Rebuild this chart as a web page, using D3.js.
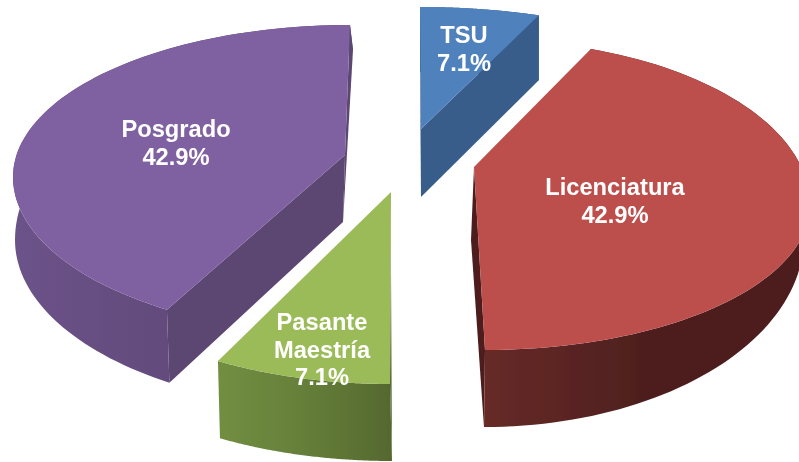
<!DOCTYPE html>
<html><head><meta charset="utf-8">
<script src="https://cdn.jsdelivr.net/npm/d3@7"></script>
<style>html,body{margin:0;padding:0;background:#fff;overflow:hidden}svg{display:block}</style>
</head><body>
<svg id="chart" width="799" height="462"></svg>
<script>
// Data
const categories = ["TSU", "Licenciatura", "Pasante Maestría", "Posgrado"];
const values = [7.1, 42.9, 7.1, 42.9];
const labelLines = [["TSU"], ["Licenciatura"], ["Pasante", "Maestría"], ["Posgrado"]];

// Styling
const topColors = ["#4f81bd", "#bc4f4c", "#9bbb59", "#7f60a0"];
const wallColors = ["#385d8a", "#4e1f1e", "#566a32", "#5c4673"];
const outerStops = [
  [["0", "#385d8a"], ["1", "#385d8a"]],
  [["0", "#672a28"], ["0.5", "#4e1f1e"], ["1", "#4e1f1e"]],
  [["0", "#718e41"], ["0.5", "#657f3a"], ["1", "#55692f"]],
  [["0", "#6b5288"], ["0.55", "#614a7a"], ["0.7", "#5c4673"], ["1", "#5c4673"]]
];

// Perspective layout of each exploded slice (picture geometry, not data)
const deg = Math.PI / 180;
const views = [
  { top: {cx:420, cy:131, rx:330, ryT:124, ryB:124}, base: {cx:420, cy:196, rx:330, ryT:124, ryB:124},
    t: [0, 21.1], pivot: [421,129], pivotBase: [421,197], grad: [420,540],
    walls: [[0],[1]] , label: [464,43] },
  { top: {cx:485, cy:205, rx:325, ryT:165, ryB:145}, base: {cx:484, cy:237, rx:320, ryT:190, ryB:190},
    t: [19, 180], pivot: [474,167], pivotBase: [471,240], grad: [485,799],
    walls: [[1]], label: [615,195] },
  { top: {cx:390, cy:220, rx:337, ryT:164, ryB:164}, base: {cx:392, cy:299, rx:337, ryT:162, ryB:162},
    t: [180, 210.7], pivot: [391,192], pivotBase: [391,268], grad: [220,389],
    walls: [[0]], label: [322,330] },
  { top: {cx:350, cy:177, rx:337, ryT:152, ryB:158}, base: {cx:353, cy:240, rx:338, ryT:190, ryB:170},
    t: [212.9, 360], pivot: [345,155], pivotBase: [343,222], grad: [18,343],
    walls: [[0],[1]], label: [176,137] }
];
const lineStep = 27.5;

const svg = d3.select("#chart");
const defs = svg.append("defs");
defs.append("filter").attr("id", "soft")
  .attr("x", "-5%").attr("y", "-5%").attr("width", "110%").attr("height", "110%")
  .append("feGaussianBlur").attr("stdDeviation", 0.45);

const pie = d3.pie().sort(null).value(d => d)
  .startAngle(0).endAngle(2 * Math.PI);
const arcs = pie(values);

const ell = (e, t) => [
  e.cx + e.rx * Math.sin(t),
  e.cy - (Math.cos(t) > 0 ? e.ryT : e.ryB) * Math.cos(t)
];
const line = d3.line();

const g = svg.append("g").attr("filter", "url(#soft)");

arcs.forEach((a, i) => {
  const v = views[i];
  // d3.pie angle -> perspective-warped ellipse parameter
  const warp = d3.scaleLinear().domain([a.startAngle, a.endAngle]).range([v.t[0] * deg, v.t[1] * deg]);
  const thetas = d3.range(0, 91).map(k => a.startAngle + (a.endAngle - a.startAngle) * k / 90);
  const topArc = thetas.map(th => ell(v.top, warp(th)));
  const baseArc = thetas.map(th => ell(v.base, warp(th)));

  const gid = "outer" + i;
  const lg = defs.append("linearGradient").attr("id", gid)
    .attr("gradientUnits", "userSpaceOnUse")
    .attr("x1", v.grad[0]).attr("x2", v.grad[1]).attr("y1", 0).attr("y2", 0);
  outerStops[i].forEach(s => lg.append("stop").attr("offset", s[0]).attr("stop-color", s[1]));

  const s = g.append("g").attr("class", "slice").attr("data-category", categories[i]);

  // radial walls
  v.walls.forEach(w => {
    const idx = w[0] === 0 ? 0 : 90;
    s.append("path")
      .attr("d", line([v.pivot, topArc[idx], baseArc[idx], v.pivotBase]) + "Z")
      .attr("fill", wallColors[i]);
  });
  // outer wall
  s.append("path")
    .attr("d", line(topArc.concat(baseArc.slice().reverse())) + "Z")
    .attr("fill", `url(#${gid})`);
  // top face
  s.append("path")
    .attr("d", line([v.pivot].concat(topArc)) + "Z")
    .attr("fill", topColors[i]);
});

// Labels
const txt = svg.append("g")
  .attr("font-family", "'Liberation Sans', Arial, sans-serif")
  .attr("font-weight", "bold")
  .attr("font-size", "23.7px")
  .attr("fill", "#ffffff")
  .attr("text-anchor", "middle")
  .attr("filter", "url(#soft)");
arcs.forEach((a, i) => {
  const lines = labelLines[i].concat([d3.format(".1f")(values[i]) + "%"]);
  lines.forEach((l, j) => {
    txt.append("text")
      .attr("x", views[i].label[0])
      .attr("y", views[i].label[1] + j * lineStep)
      .text(l);
  });
});
</script>
</body></html>
